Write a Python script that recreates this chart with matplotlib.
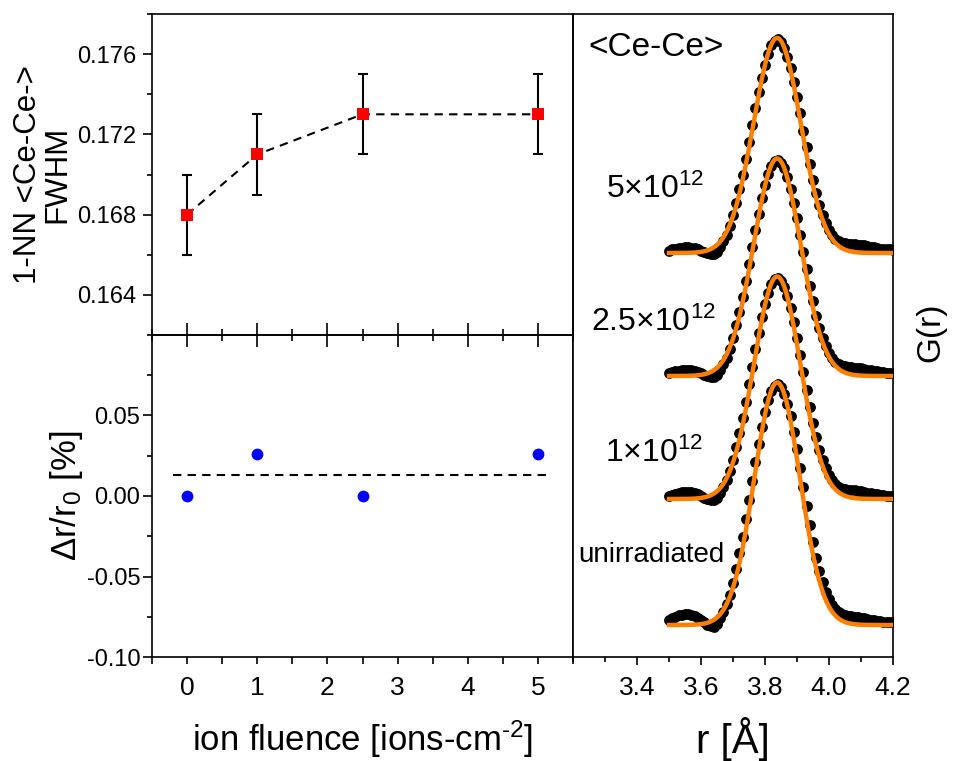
import numpy as np
import matplotlib
matplotlib.use('Agg')
import matplotlib.pyplot as plt
from matplotlib.ticker import MultipleLocator, FixedLocator, FormatStrFormatter

plt.rcParams['font.family'] = ['Liberation Sans', 'DejaVu Sans']
plt.rcParams['mathtext.fontset'] = 'custom'
plt.rcParams['mathtext.rm'] = 'Liberation Sans'
plt.rcParams['mathtext.it'] = 'Liberation Sans:italic'
plt.rcParams['mathtext.bf'] = 'Liberation Sans:bold'
plt.rcParams['axes.unicode_minus'] = False
plt.rcParams['axes.linewidth'] = 1.2

# nearest-neighbour Ce-Ce peak vs fluence
fluence = [0, 1, 2.5, 5]
fwhm = [0.168, 0.171, 0.173, 0.173]
fwhm_err = [0.002, 0.002, 0.002, 0.002]
dr_r0 = [0.0, 0.026, 0.0, 0.026]

# G(r) around the first Ce-Ce shell, r = 3.50 ... 4.20 in 0.01 steps
r_data = np.round(np.arange(3.50, 4.205, 0.01), 2)
g_unirr = [0.20, 0.28, 0.34, 0.39, 0.42, 0.44, 0.44, 0.42, 0.37, 0.30,
           0.21, 0.11, 0.02, -0.05, -0.06, 0.05, 0.28, 0.52, 0.83, 1.22,
           1.69, 2.26, 2.87, 3.54, 4.25, 5.01, 5.77, 6.53, 7.25, 7.92,
           8.51, 9.00, 9.37, 9.58, 9.64, 9.52, 9.26, 8.86, 8.35, 7.73,
           7.04, 6.30, 5.53, 4.76, 4.02, 3.32, 2.70, 2.16, 1.71, 1.34,
           1.05, 0.82, 0.65, 0.53, 0.45, 0.41, 0.38, 0.36, 0.34, 0.32,
           0.29, 0.27, 0.24, 0.21, 0.19, 0.17, 0.15, 0.14, 0.13, 0.12,
           0.12]
g_1e12 = [0.13, 0.18, 0.22, 0.25, 0.27, 0.28, 0.28, 0.27, 0.24, 0.19,
          0.13, 0.06, 0.00, -0.04, -0.05, 0.04, 0.26, 0.48, 0.76, 1.12,
          1.55, 2.07, 2.63, 3.25, 3.90, 4.60, 5.29, 5.99, 6.65, 7.27,
          7.81, 8.26, 8.60, 8.79, 8.84, 8.73, 8.50, 8.13, 7.66, 7.09,
          6.46, 5.78, 5.07, 4.37, 3.69, 3.05, 2.48, 1.98, 1.57, 1.23,
          0.96, 0.75, 0.60, 0.49, 0.42, 0.40, 0.38, 0.36, 0.35, 0.33,
          0.31, 0.28, 0.26, 0.23, 0.21, 0.19, 0.17, 0.15, 0.14, 0.13,
          0.12]
g_2p5e12 = [0.11, 0.15, 0.19, 0.21, 0.23, 0.24, 0.24, 0.23, 0.21, 0.17,
            0.11, 0.05, 0.00, -0.04, -0.05, 0.04, 0.25, 0.47, 0.74, 1.09,
            1.52, 2.03, 2.57, 3.18, 3.81, 4.49, 5.18, 5.86, 6.50, 7.10,
            7.63, 8.07, 8.40, 8.59, 8.65, 8.54, 8.31, 7.95, 7.49, 6.93,
            6.31, 5.65, 4.96, 4.27, 3.61, 2.98, 2.42, 1.94, 1.53, 1.20,
            0.94, 0.74, 0.58, 0.48, 0.41, 0.38, 0.36, 0.35, 0.34, 0.32,
            0.30, 0.28, 0.25, 0.23, 0.21, 0.19, 0.17, 0.15, 0.14, 0.13,
            0.12]
g_5e12 = [0.10, 0.14, 0.17, 0.19, 0.21, 0.22, 0.22, 0.21, 0.19, 0.15,
          0.10, 0.05, 0.00, -0.04, -0.05, 0.04, 0.25, 0.46, 0.74, 1.08,
          1.50, 2.00, 2.54, 3.14, 3.77, 4.44, 5.12, 5.79, 6.43, 7.02,
          7.54, 7.98, 8.31, 8.49, 8.55, 8.44, 8.21, 7.86, 7.40, 6.85,
          6.24, 5.59, 4.90, 4.22, 3.56, 2.94, 2.39, 1.92, 1.52, 1.19,
          0.93, 0.73, 0.58, 0.48, 0.42, 0.39, 0.37, 0.36, 0.35, 0.34,
          0.32, 0.30, 0.27, 0.24, 0.22, 0.20, 0.18, 0.16, 0.15, 0.14,
          0.13]

# gaussian fit parameters per sample
fit_height = [9.7, 8.9, 8.7, 8.6]
fit_center = [3.838, 3.838, 3.838, 3.838]
fit_fwhm = [0.168, 0.171, 0.173, 0.173]

sample_names = ['unirradiated', '1×10$^{12}$', '2.5×10$^{12}$', '5×10$^{12}$']
stack_offset = [0.0, 5.04, 9.96, 14.88]

fig = plt.figure(figsize=(9.63, 7.61), dpi=100)
W, H = 963.0, 761.0
ax_top = fig.add_axes([152 / W, 1 - 335 / H, 421 / W, 321 / H])
ax_bot = fig.add_axes([152 / W, 1 - 657 / H, 421 / W, 322 / H])
ax_r = fig.add_axes([573 / W, 1 - 657 / H, 320 / W, 643 / H])
ax_top.set_zorder(3)
ax_top.patch.set_alpha(0)

# --- FWHM panel ---
ax_top.plot(fluence, fwhm, color='black', lw=1.5, ls=(0, (4, 3)), zorder=2)
ax_top.errorbar(fluence, fwhm, yerr=fwhm_err, fmt='none', ecolor='black',
                elinewidth=1.5, capsize=3.8, capthick=1.5, zorder=3)
ax_top.plot(fluence, fwhm, 's', color='red', ms=8, mew=0, zorder=4)
ax_top.set_xlim(-0.5, 5.5)
ax_top.set_ylim(0.162, 0.178)
ax_top.yaxis.set_major_locator(FixedLocator([0.164, 0.168, 0.172, 0.176]))
ax_top.yaxis.set_minor_locator(MultipleLocator(0.002))
ax_top.yaxis.set_major_formatter(FormatStrFormatter('%.3f'))
ax_top.xaxis.set_major_locator(MultipleLocator(1))
ax_top.xaxis.set_minor_locator(MultipleLocator(0.5))
ax_top.tick_params(axis='y', which='major', direction='out', length=6.5,
                   width=1.2, labelsize=17, pad=5)
ax_top.tick_params(axis='y', which='minor', direction='out', length=3.5, width=1.2)
ax_top.tick_params(axis='x', which='major', direction='inout', length=17,
                   width=1.2, labelbottom=False)
ax_top.tick_params(axis='x', which='minor', direction='inout', length=8, width=1.2)
ax_top.set_ylabel('1-NN <Ce-Ce->\nFWHM', fontsize=22.5, linespacing=1.0)
ax_top.yaxis.set_label_coords(-0.188, 0.5)

# --- relative shift panel ---
ax_bot.plot(fluence, dr_r0, 'o', color='#0000ff', ms=8.5, mew=0, zorder=3)
ax_bot.hlines(np.mean(dr_r0), -0.2, 5.2, color='black', lw=1.5,
              linestyles=(0, (4, 3)))
ax_bot.set_xlim(-0.5, 5.5)
ax_bot.set_ylim(-0.1, 0.1)
ax_bot.yaxis.set_major_locator(FixedLocator([-0.10, -0.05, 0.0, 0.05]))
ax_bot.yaxis.set_minor_locator(FixedLocator([-0.075, -0.025, 0.025, 0.075]))
ax_bot.yaxis.set_major_formatter(FormatStrFormatter('%.2f'))
ax_bot.xaxis.set_major_locator(MultipleLocator(1))
ax_bot.xaxis.set_minor_locator(MultipleLocator(0.5))
ax_bot.tick_params(axis='y', which='major', direction='out', length=6.5,
                   width=1.2, labelsize=17, pad=2)
ax_bot.tick_params(axis='y', which='minor', direction='out', length=3.5, width=1.2)
ax_bot.tick_params(axis='x', which='both', direction='out', length=5,
                   width=1.2, labelsize=19, pad=9)
ax_bot.set_ylabel('Δr/r$_0$ [%]', fontsize=25)
ax_bot.yaxis.set_label_coords(-0.16, 0.5)
ax_bot.set_xlabel('ion fluence [ions-cm$^{\u2010 2}$]', fontsize=25)
ax_bot.xaxis.set_label_coords(0.5, -0.19)

# --- G(r) stack ---
r_fit = np.linspace(3.5, 4.2, 400)
curves = [g_unirr, g_1e12, g_2p5e12, g_5e12]
for g, off, h, c, w in zip(curves, stack_offset, fit_height, fit_center, fit_fwhm):
    ax_r.plot(r_data, np.array(g) + off, 'o', color='black', ms=7.8, mew=0,
              zorder=2)
    fit = h * np.exp(-4 * np.log(2) * (r_fit - c) ** 2 / w ** 2)
    ax_r.plot(r_fit, fit + off, color='#ff8000', lw=3.2, zorder=3)

ax_r.set_xlim(3.2, 4.2)
ax_r.set_ylim(-1.28, 24.44)
ax_r.xaxis.set_major_locator(FixedLocator([3.4, 3.6, 3.8, 4.0, 4.2]))
ax_r.xaxis.set_minor_locator(MultipleLocator(0.1))
ax_r.xaxis.set_major_formatter(FormatStrFormatter('%.1f'))
ax_r.set_yticks([])
ax_r.tick_params(axis='x', which='major', direction='out', length=6,
                 width=1.2, labelsize=19, pad=8)
ax_r.tick_params(axis='x', which='minor', direction='out', length=3.5, width=1.2)
ax_r.set_xlabel('r [Å]', fontsize=29)
ax_r.xaxis.set_label_coords(0.5, -0.093)
ax_r.yaxis.set_label_position('right')
ax_r.set_ylabel('G(r)', fontsize=24)
ax_r.yaxis.set_label_coords(1.07, 0.505)

ax_r.text(3.247, 23.12, '<Ce-Ce>', fontsize=24, va='center')
label_pos = [(3.216, 2.52), (3.300, 6.52), (3.256, 11.76), (3.303, 17.08)]
for name, (x, y) in zip(sample_names, label_pos):
    size = 20 if name == 'unirradiated' else 23
    ax_r.text(x, y, name, fontsize=size, va='baseline')

fig.savefig('out.png', dpi=100)
